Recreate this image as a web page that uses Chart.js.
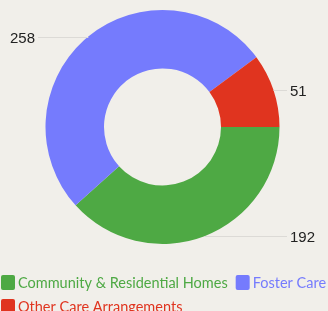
<!DOCTYPE html>
<html>
<head>
<meta charset="utf-8">
<script src="https://cdn.jsdelivr.net/npm/chart.js@4"></script>
<style>
    html, body { margin: 0; padding: 0; background: #f1efea; overflow: hidden; }
    #wrap { width: 328px; height: 311px; position: relative; }
</style>
</head>
<body>
<div id="wrap"><canvas id="careChart"></canvas></div>
<script>
const categories = ['Community & Residential Homes', 'Foster Care', 'Other Care Arrangements'];
const counts = [192, 258, 51];
const sliceColors = ['#4ea944', '#757bfd', '#e0341f'];

// Value labels with horizontal leader lines
const leaderLabels = {
    id: 'leaderLabels',
    afterDatasetsDraw(chart) {
        const ctx = chart.ctx;
        const meta = chart.getDatasetMeta(0);
        ctx.save();
        ctx.font = '15px "Liberation Sans", Arial, sans-serif';
        ctx.textBaseline = 'middle';
        meta.data.forEach((arc, i) => {
            const mid = (arc.startAngle + arc.endAngle) / 2;
            const px = arc.x + Math.cos(mid) * arc.outerRadius;
            const py = Math.round(arc.y + Math.sin(mid) * arc.outerRadius) + 0.5;
            const right = Math.cos(mid) >= 0;
            const endX = right ? 287 : 38;
            ctx.strokeStyle = '#dcdad6';
            ctx.lineWidth = 1;
            ctx.beginPath();
            ctx.moveTo(px, py);
            ctx.lineTo(endX, py);
            ctx.stroke();
            ctx.fillStyle = '#222222';
            ctx.textAlign = right ? 'left' : 'right';
            ctx.fillText(String(counts[i]), right ? endX + 3 : endX - 3, py + 1);
        });
        ctx.restore();
    }
};

// Legend drawn left-aligned under the doughnut, text in the slice colour
const bottomLegend = {
    id: 'bottomLegend',
    afterDraw(chart) {
        const ctx = chart.ctx;
        ctx.save();
        ctx.font = '14.5px Lato, sans-serif';
        ctx.textBaseline = 'middle';
        ctx.textAlign = 'left';
        let x = 1;
        let y = 275;
        categories.forEach((label, i) => {
            const w = 14 + 3 + ctx.measureText(label).width;
            if (x > 1 && x + w > chart.width) {
                x = 1;
                y += 24;
            }
            ctx.fillStyle = sliceColors[i];
            ctx.beginPath();
            ctx.roundRect(x, y, 14, 15, 2);
            ctx.fill();
            ctx.fillText(label, x + 17, y + 8);
            x += w + 8;
        });
        ctx.restore();
    }
};

const ctxCare = document.getElementById('careChart').getContext('2d');
const careChart = new Chart(ctxCare, {
    type: 'doughnut',
    data: {
        labels: categories,
        datasets: [{
            data: counts,
            backgroundColor: sliceColors,
            borderWidth: 0
        }]
    },
    options: {
        responsive: true,
        maintainAspectRatio: false,
        animation: false,
        rotation: 90,
        cutout: '50%',
        layout: {
            padding: { top: 10, bottom: 67, left: 0, right: 3 }
        },
        plugins: {
            legend: { display: false },
            tooltip: { enabled: false }
        }
    },
    plugins: [leaderLabels, bottomLegend]
});
</script>
</body>
</html>
